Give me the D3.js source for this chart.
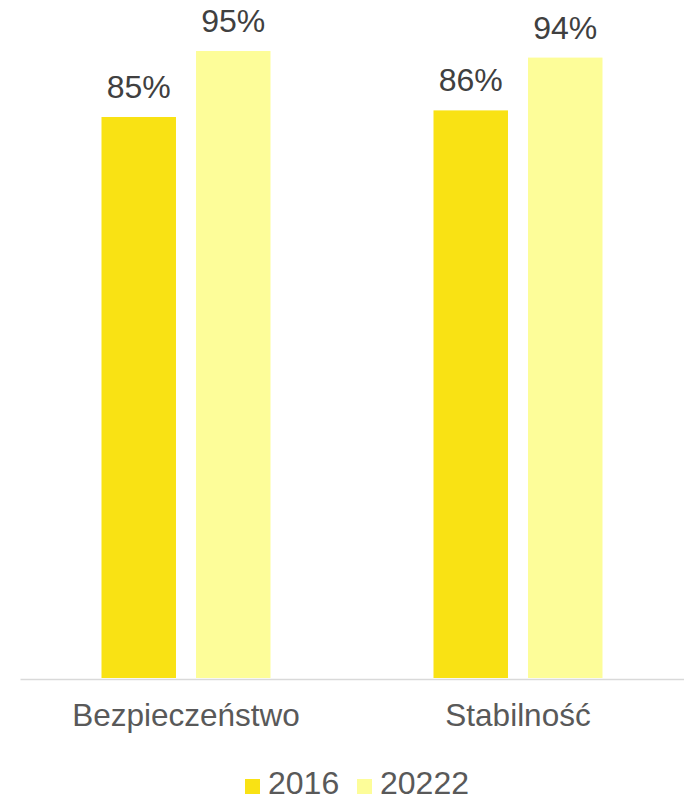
<!DOCTYPE html>
<html>
<head>
<meta charset="utf-8">
<script src="https://cdn.jsdelivr.net/npm/d3@7"></script>
<style>
	body { margin: 0; background: #fff; }
	svg text { font-family: "Liberation Sans", Arial, sans-serif; }
</style>
</head>
<body>
<script>
var categories = ['Bezpieczeństwo', 'Stabilność'];
var seriesNames = ['2016', '20222'];
var values2016 = [85, 86];
var values2022 = [95, 94];

var colors = ['#f9e214', '#fdfd99'];

var w = 684;
var h = 801;

var data = [];
for(let i = 0; i < categories.length; i++){
	data.push({
		'cat': categories[i],
		'vals': [values2016[i], values2022[i]]
	});
}

var svg = d3.select('body')
			.append('svg')
			.attr('width', w)
			.attr('height', h);

var x0 = d3.scaleBand().domain(categories).range([20, 684]).padding(0);
var x1 = d3.scaleBand().domain(seriesNames).range([81.5, 250.5]).paddingInner(0.212);
var y = d3.scaleLinear().domain([0, 100]).range([678, 18]);

var groups = svg.selectAll('g.group')
				.data(data)
				.enter()
				.append('g')
				.attr('class', 'group')
				.attr('transform', function(d){ return 'translate(' + x0(d.cat) + ',0)'; });

var bars = groups.selectAll('rect')
				 .data(function(d){
					return d.vals.map(function(v, i){ return {'name': seriesNames[i], 'v': v, 'i': i}; });
				 })
				 .enter();

bars.append('rect')
	.attr('x', function(d){ return x1(d.name); })
	.attr('y', function(d){ return y(d.v); })
	.attr('width', x1.bandwidth())
	.attr('height', function(d){ return y(0) - y(d.v); })
	.attr('fill', function(d){ return colors[d.i]; });

bars.append('text')
	.attr('x', function(d){ return x1(d.name) + x1.bandwidth()/2; })
	.attr('y', function(d){ return y(d.v) - 19; })
	.attr('text-anchor', 'middle')
	.attr('font-size', 32)
	.attr('fill', '#404040')
	.text(function(d){ return d.v + '%'; });

// axis line
var axis = svg.append('g')
			  .attr('transform', 'translate(0,679)')
			  .call(d3.axisBottom(x0).tickSize(0).tickPadding(0));
axis.select('.domain').attr('stroke', '#d9d9d9').attr('stroke-width', 1.5);
axis.selectAll('text')
	.attr('y', 47)
	.attr('dy', 0)
	.attr('font-size', 31.5)
	.attr('fill', '#595959');

// legend
var legendX = [245, 357];
var legend = svg.append('g');
for(let i = 0; i < seriesNames.length; i++){
	legend.append('rect')
		  .attr('x', legendX[i])
		  .attr('y', 779)
		  .attr('width', 15)
		  .attr('height', 15)
		  .attr('fill', colors[i]);
	legend.append('text')
		  .attr('x', legendX[i] + 23)
		  .attr('y', 794)
		  .attr('font-size', 32)
		  .attr('fill', '#595959')
		  .text(seriesNames[i]);
}
</script>
</body>
</html>
